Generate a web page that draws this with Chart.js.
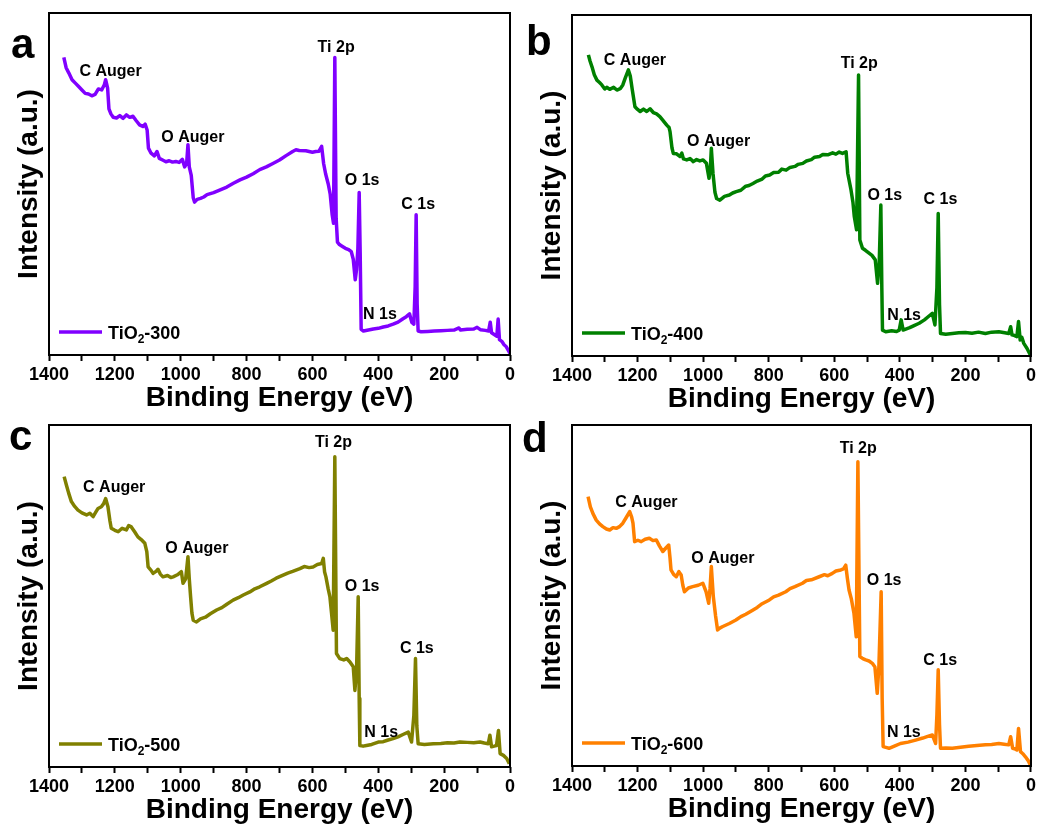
<!DOCTYPE html>
<html>
<head>
<meta charset="utf-8">
<script src="https://cdn.jsdelivr.net/npm/chart.js@4.4.0/dist/chart.umd.min.js"></script>
<style>
  html, body { margin: 0; padding: 0; background: #fff; }
  body { width: 1039px; height: 827px; position: relative; overflow: hidden; }
  canvas { position: absolute; }
</style>
</head>
<body>
<canvas id="chartA" width="520" height="415" style="left:0;top:0"></canvas>
<canvas id="chartB" width="519" height="416" style="left:520px;top:0"></canvas>
<canvas id="chartC" width="520" height="413" style="left:0;top:414px"></canvas>
<canvas id="chartD" width="519" height="412" style="left:520px;top:414px"></canvas>
<script>
// [binding energy (eV), intensity (a.u., 0-100 of the axis)]
const spectrum300 = [[1355,87],[1348,84],[1340,82.5],[1330,80.5],[1320,79.5],[1310,78.5],[1300,77.5],[1290,76.5],[1280,76.3],[1270,75.8],[1260,76.2],[1250,77.8],[1240,77.5],[1232,79],[1228,80.5],[1222,78],[1218,72],[1212,70.5],[1205,69.5],[1195,69.3],[1185,70],[1175,69.2],[1165,70.2],[1155,69.5],[1145,69.8],[1135,68.5],[1125,67.3],[1115,66.8],[1108,67.5],[1102,65.8],[1098,60.5],[1090,59],[1080,58.2],[1072,59.5],[1065,57.5],[1055,57],[1045,56.5],[1035,56.8],[1025,56.4],[1015,56.6],[1005,56.3],[995,57.2],[988,55],[982,56],[978,61.5],[974,55],[968,52.5],[962,46],[958,44.7],[950,45.5],[940,45.8],[930,46.2],[920,46.9],[910,47.2],[900,47.5],[880,48.3],[860,49.1],[840,50.2],[820,51.2],[800,52],[780,53],[760,54.2],[740,55],[720,56],[700,57],[680,58.3],[660,59.5],[650,60],[640,59.8],[620,59.7],[600,59.3],[590,59.5],[580,59.6],[572,61],[566,56],[560,53],[552,50],[546,47],[540,41],[536,38.5],[532,87],[528,40],[524,33],[518,32.3],[510,31.8],[500,31.2],[490,30.8],[482,30.2],[476,28],[470,22],[466,25],[462,31],[458,47.5],[455,30],[452,7.5],[445,7],[430,7.3],[415,7.6],[400,7.8],[385,8.2],[370,8.5],[355,9],[340,9.6],[325,10.6],[315,11.2],[305,12],[298,9.5],[292,9],[288,20],[285,41],[282,15],[279,7],[270,6.8],[250,6.9],[230,7],[210,7.1],[190,7.2],[170,7.3],[155,7.9],[150,7.3],[130,7.5],[110,7.6],[100,8.1],[90,7.4],[75,7.2],[65,7],[60,9.6],[56,6.5],[48,6],[40,5.5],[36,10.5],[32,4.5],[25,4],[18,3],[12,2.5],[6,1.5],[0,0.5]];
const spectrum400 = [[1350,88.3],[1345,86.5],[1339,84.8],[1332,82.5],[1324,80.9],[1316,80.2],[1309,79.5],[1300,78.3],[1294,78.8],[1285,78.2],[1273,78.8],[1263,78],[1253,78.4],[1245,79.5],[1238,81.4],[1228,83.9],[1222,82],[1216,78],[1208,73.1],[1200,72.3],[1192,71.7],[1182,72.4],[1172,71.7],[1162,72.5],[1152,71.4],[1142,71],[1132,70.2],[1122,69],[1111,67.7],[1104,67],[1101,65.8],[1095,61],[1091,59.4],[1081,59.3],[1071,58.5],[1065,59.5],[1060,57.8],[1050,57.5],[1040,57.9],[1030,57],[1020,57.6],[1010,57.2],[1000,57.5],[990,56.5],[982,52.1],[978,55],[975,60.9],[970,53.6],[964,48],[959,46.2],[949,45.7],[935,46.8],[920,47.2],[910,47.8],[899,48.2],[885,48.6],[870,49.8],[860,50],[848,50.6],[835,51.3],[820,51.9],[810,52.8],[797,53.1],[785,53.8],[770,53.9],[760,54.8],[747,54.5],[735,55.3],[720,55.6],[710,56.2],[696,56.5],[685,57.2],[670,57.6],[660,58.3],[645,58.5],[635,59.1],[620,59],[605,59.6],[595,59.2],[585,59.8],[575,59.4],[564,59.9],[559,53.6],[549,48.7],[543,45],[539,40.9],[532,37],[526,82.4],[522,34],[514,31.6],[505,31],[493,30.1],[485,29.5],[475,28.2],[468,21.3],[463,27.2],[458,44.3],[455,20],[453,7.6],[443,7.1],[425,7.4],[410,7.2],[402,7.6],[396,10.6],[390,7.6],[370,8.3],[355,9],[341,9.6],[325,10.6],[310,11.8],[301,12.5],[293,9.1],[287,20],[283,41.8],[279,15],[276,6.6],[260,6.4],[240,6.6],[220,6.8],[200,6.9],[180,6.7],[160,7],[139,6.6],[120,7],[98,7.1],[80,6.8],[68,6.6],[62,8.6],[58,6.2],[50,6],[43,5.7],[38,10.1],[33,4.7],[28,5.5],[22,3.7],[12,2.2],[2,0.3]];
const spectrum500 = [[1354,84.9],[1347,82.4],[1340,80],[1332,77.6],[1322,76.2],[1312,75.1],[1300,74.3],[1286,73.7],[1276,74.2],[1266,73.2],[1258,74.5],[1251,75.6],[1241,76.1],[1234,77],[1228,78.5],[1221,76.1],[1215,72],[1211,69.8],[1200,69.2],[1190,68.8],[1178,69.8],[1165,69.3],[1158,70.6],[1150,70.2],[1140,68.8],[1130,67.3],[1120,66.5],[1109,65.4],[1103,63],[1099,58.5],[1090,57.5],[1084,56.6],[1075,57.2],[1069,57.8],[1062,56.4],[1054,55.6],[1040,56],[1030,55.4],[1023,55.6],[1010,56.2],[998,57.1],[993,53.7],[985,55],[978,61.5],[974,55],[970,49.8],[966,45],[962,42.9],[952,42.4],[940,43.3],[925,43.8],[910,44.8],[891,45.9],[875,46.6],[860,47.6],[841,48.8],[825,49.5],[810,50.3],[790,51.2],[775,52.1],[760,52.7],[739,53.7],[725,54.4],[710,55.2],[689,56.1],[675,56.7],[660,57.2],[638,58],[625,58.6],[610,58.3],[598,58.5],[585,59.2],[572,59.5],[567,61],[563,57],[559,55.6],[552,52],[547,49.8],[542,45],[537,40],[532,90.7],[527,33.2],[517,31.7],[505,31.3],[496,31.7],[486,30.7],[476,29.3],[471,22.4],[466,28.3],[461,49.8],[458,20],[456,6.3],[446,6.1],[436,6.3],[420,6.6],[400,7.3],[385,7.4],[370,7.9],[355,8.3],[340,8.8],[325,9.5],[309,10.2],[299,7.3],[292,15],[287,31.7],[283,12],[279,6.8],[260,6.6],[233,6.8],[210,6.9],[190,7.1],[170,7],[152,7.3],[130,7.2],[110,7.1],[91,7.3],[78,7],[66,6.8],[61,9.3],[56,5.9],[48,6.1],[41,6.3],[35,10.7],[30,3.9],[20,3.4],[10,2.5],[2,1]];
const spectrum600 = [[1351,79],[1344,76],[1336,74],[1326,72.1],[1316,71],[1306,70.2],[1295,69.5],[1285,69.2],[1275,69.9],[1265,69.7],[1255,70.2],[1245,71.2],[1235,72.8],[1224,74.6],[1218,73],[1214,71.2],[1209,65.8],[1199,66.2],[1189,65.8],[1177,66.5],[1164,66.8],[1153,66.1],[1143,66.3],[1133,64.5],[1123,62.9],[1113,64],[1105,64.8],[1101,61],[1098,57.5],[1090,56.2],[1082,55.5],[1074,57],[1067,56],[1062,53],[1057,51.1],[1045,52.2],[1032,52.6],[1015,53],[1001,53.6],[991,51.1],[983,47.7],[979,52],[975,58.5],[969,49.7],[962,44],[956,39.9],[948,40.5],[940,40.9],[920,41.8],[900,42.8],[885,43.8],[870,44.5],[849,45.7],[835,46.5],[820,47.6],[798,48.7],[785,49.6],[770,50.1],[748,51.1],[735,52],[720,52.6],[697,53.6],[685,54.4],[670,54.6],[646,55.5],[630,56.1],[620,55.8],[606,56.5],[595,57.2],[580,57.5],[572,57.8],[565,58.9],[560,55],[555,51.6],[548,49],[540,44.8],[533,37.9],[528,89.2],[522,32.1],[513,31.5],[504,31.1],[494,30.8],[484,30.1],[476,29],[469,21.3],[464,29.1],[457,51.1],[454,20],[451,5.7],[440,5.4],[433,5.2],[415,5.9],[398,6.6],[375,7],[352,7.6],[330,8.2],[315,8.7],[301,9.1],[291,6.6],[287,15],[283,28.2],[279,12],[276,5.2],[260,5.3],[240,5.2],[215,5.5],[190,5.8],[165,6],[139,6.2],[120,6.3],[98,6.6],[82,6.4],[68,6.2],[62,8.6],[56,5.2],[48,5],[43,4.7],[38,11],[32,4.2],[25,3.6],[17,2.7],[8,1.5],[2,0.3]];

// peak annotations: [text, energy, intensity]
const peaks300 = [['C Auger',1213,81.6],['O Auger',963,62.3],['Ti 2p',528,88.6],['O 1s',449,49.7],['C 1s',279,42.7],['N 1s',395,10.5]];
const peaks400 = [['C Auger',1208,85.3],['O Auger',953,61.7],['Ti 2p',524,84.4],['O 1s',446,45.7],['C 1s',276,44.6],['N 1s',387,10.6]];
const peaks500 = [['C Auger',1202,80.5],['O Auger',951,62.6],['Ti 2p',536,93.5],['O 1s',449,51.4],['C 1s',283,33.2],['N 1s',391,8.8]];
const peaks600 = [['C Auger',1173,75.9],['O Auger',940,59.4],['Ti 2p',527,91.9],['O 1s',448,53.1],['C 1s',277,29.6],['N 1s',388,8.6]];

const temperatures = ['300', '400', '500', '600'];
const majorTicks = [1400, 1200, 1000, 800, 600, 400, 200, 0];

const FONT = '"Liberation Sans", Arial, Helvetica, sans-serif';
Chart.defaults.font.family = FONT;
Chart.defaults.color = '#000';

const panelDecor = {
    id: 'panelDecor',
    afterDatasetsDraw(chart, args, opts) {
        const { ctx, chartArea: a, scales: { x, y } } = chart;
        ctx.save();
        ctx.strokeStyle = '#000';
        ctx.lineWidth = 2;
        ctx.strokeRect(a.left, a.top, a.right - a.left, a.bottom - a.top);

        ctx.fillStyle = '#000';
        ctx.font = 'bold 16px ' + FONT;
        ctx.textAlign = 'center';
        ctx.textBaseline = 'alphabetic';
        opts.peaks.forEach(([t, e, v]) => ctx.fillText(t, x.getPixelForValue(e), y.getPixelForValue(v)));

        // legend inside the frame, with subscript 2
        const ly = a.bottom - 23;
        ctx.strokeStyle = opts.color;
        ctx.lineWidth = 3.5;
        ctx.beginPath();
        ctx.moveTo(a.left + 10, ly);
        ctx.lineTo(a.left + 53, ly);
        ctx.stroke();
        ctx.textAlign = 'left';
        ctx.font = 'bold 18px ' + FONT;
        let tx = a.left + 59;
        ctx.fillText('TiO', tx, ly + 7);
        tx += ctx.measureText('TiO').width;
        ctx.font = 'bold 12px ' + FONT;
        ctx.fillText('2', tx, ly + 11);
        tx += ctx.measureText('2').width;
        ctx.font = 'bold 18px ' + FONT;
        ctx.fillText('-' + opts.temp, tx, ly + 7);

        ctx.font = 'bold 42px ' + FONT;
        ctx.fillText(opts.letter, opts.lx, opts.ly);
        ctx.restore();
    }
};

const panels = [
    { id: 'chartA', data: spectrum300, peaks: peaks300, color: '#8000FF', padTop: 13, padRight: 10, yWidth: 49, yPad: 12, letter: 'a', lx: 11, ly: 58 },
    { id: 'chartB', data: spectrum400, peaks: peaks400, color: '#008000', padTop: 15, padRight: 7, yWidth: 52, yPad: 15, letter: 'b', lx: 6, ly: 55 },
    { id: 'chartC', data: spectrum500, peaks: peaks500, color: '#808000', padTop: 11, padRight: 10, yWidth: 49, yPad: 12, letter: 'c', lx: 9, ly: 36 },
    { id: 'chartD', data: spectrum600, peaks: peaks600, color: '#FF8000', padTop: 11, padRight: 7, yWidth: 52, yPad: 15, letter: 'd', lx: 2, ly: 38 }
];

panels.forEach((p, i) => {
    new Chart(document.getElementById(p.id), {
        type: 'line',
        data: {
            datasets: [{
                label: 'TiO\u2082-' + temperatures[i],
                data: p.data.map(([e, v]) => ({ x: e, y: v })),
                borderColor: p.color,
                borderWidth: 3.5,
                borderJoinStyle: 'round',
                pointRadius: 0,
                tension: 0,
                fill: false
            }]
        },
        options: {
            responsive: false,
            animation: false,
            layout: { padding: { top: p.padTop, right: p.padRight, left: 0, bottom: 0 } },
            plugins: {
                legend: { display: false },
                tooltip: { enabled: false },
                panelDecor: { peaks: p.peaks, color: p.color, temp: temperatures[i], letter: p.letter, lx: p.lx, ly: p.ly }
            },
            scales: {
                x: {
                    type: 'linear',
                    reverse: true,
                    min: 0,
                    max: 1400,
                    afterFit: (s) => { s.height = 60; },
                    ticks: {
                        stepSize: 100,
                        autoSkip: false,
                        maxRotation: 0,
                        padding: 3,
                        color: '#000',
                        font: { size: 18, weight: 'bold' },
                        callback: (v) => majorTicks.includes(v) ? String(v) : ''
                    },
                    grid: { display: true, drawOnChartArea: false, drawTicks: true, tickLength: 6, tickWidth: 2, tickColor: '#000' },
                    border: { display: false },
                    title: { display: true, text: 'Binding Energy (eV)', color: '#000', font: { size: 28, weight: 'bold' }, padding: { top: 0, bottom: 0 } }
                },
                y: {
                    min: 0,
                    max: 100,
                    afterFit: (s) => { s.width = p.yWidth; },
                    ticks: { display: false },
                    grid: { display: false },
                    border: { display: false },
                    title: { display: true, text: 'Intensity (a.u.)', color: '#000', font: { size: 28, weight: 'bold' }, padding: { top: p.yPad, bottom: 0 } }
                }
            }
        },
        plugins: [panelDecor]
    });
});
</script>
</body>
</html>
